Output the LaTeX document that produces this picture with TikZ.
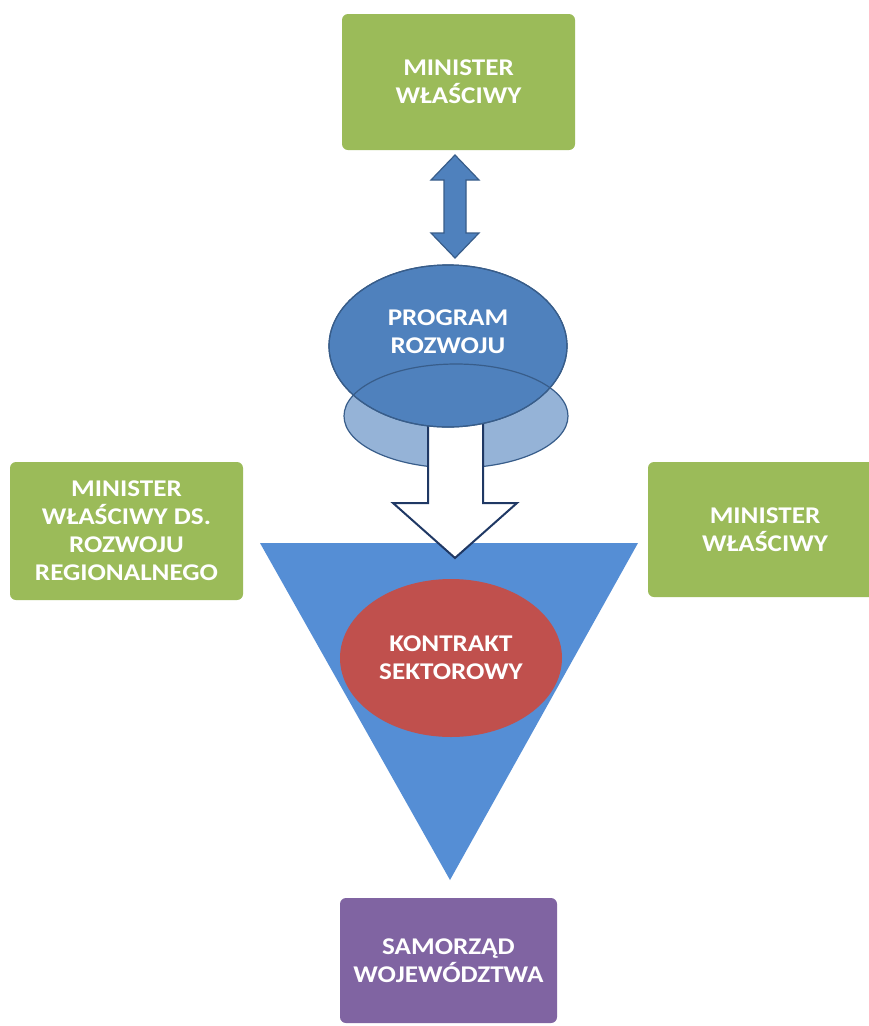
\documentclass[tikz,border=0pt]{standalone}
\usepackage{fontspec}
\setmainfont{Carlito}
\newfontfamily\lblfont[FakeStretch=1.13]{Carlito}
\usetikzlibrary{shapes.geometric}
\definecolor{boxgreen}{RGB}{155,187,89}
\definecolor{boxpurple}{RGB}{128,100,162}
\definecolor{darkblue}{RGB}{79,129,189}
\definecolor{edgeblue}{RGB}{56,93,138}
\definecolor{lightblue}{RGB}{149,179,215}
\definecolor{triblue}{RGB}{85,142,213}
\definecolor{navy}{RGB}{31,56,100}
\definecolor{kred}{RGB}{192,80,77}
\tikzset{
  lbl/.style={font=\lblfont\bfseries\fontsize{24}{28}\selectfont, text=white, align=center, inner sep=0pt},
  greenbox/.style={lbl, rounded corners=6pt, fill=boxgreen},
  purplebox/.style={lbl, rounded corners=6pt, fill=boxpurple},
  blockarrow/.style={line width=1.2pt, line join=miter}
}
\begin{document}
\begin{tikzpicture}[x=1pt,y=-1pt]
\clip (0,0) rectangle (869,1026);
\fill[white] (0,0) rectangle (869,1026);

% boxes
\node[greenbox, minimum width=233pt, minimum height=136pt] (top) at (458.5,82) {MINISTER\\WŁAŚCIWY};
\node[greenbox, minimum width=233pt, minimum height=138pt] (left) at (126.5,531) {MINISTER\\WŁAŚCIWY DS.\\ROZWOJU\\REGIONALNEGO};
\node[greenbox, minimum width=234pt, minimum height=135pt, text width=234pt] (right) at (765,529.5) {MINISTER\\WŁAŚCIWY};
\node[purplebox, minimum width=217pt, minimum height=125pt] (bottom) at (448.5,960.5) {SAMORZĄD\\WOJEWÓDZTWA};

% double arrow between top box and program
\fill[darkblue, draw=edgeblue, blockarrow] (455,155) -- (479,180) -- (466,180) -- (466,233) -- (479,233) -- (455,258) -- (431,233) -- (444,233) -- (444,180) -- (431,180) -- cycle;

% triangle
\fill[triblue] (260,543) -- (638,543) -- (450,880) -- cycle;

% lower light ellipse
\node[ellipse, minimum width=224pt, minimum height=104pt, fill=lightblue, draw=edgeblue, line width=1.2pt] (light) at (456,416) {};

% white block arrow
\draw[fill=white, draw=navy, line width=2pt, line join=miter] (428,410) -- (428,503) -- (393,503) -- (455,558) -- (517,503) -- (483,503) -- (483,410) -- cycle;

% program ellipse
\node[ellipse, minimum width=238pt, minimum height=162pt, fill=darkblue, draw=edgeblue, line width=1.2pt] (prog) at (448,346) {};
\begin{scope}
  \clip (448,346) ellipse [x radius=119, y radius=81];
  \draw[edgeblue, line width=1.2pt] (456,416) ellipse [x radius=112, y radius=52];
\end{scope}
\draw[edgeblue, line width=1.2pt] (prog.center) ellipse [x radius=119, y radius=81];
\node[lbl] (progtext) at (448,332) {PROGRAM\\ROZWOJU};

% red ellipse
\node[ellipse, minimum width=222pt, minimum height=158pt, fill=kred, lbl] (kontrakt) at (451,658) {KONTRAKT\\SEKTOROWY};
\end{tikzpicture}
\end{document}
